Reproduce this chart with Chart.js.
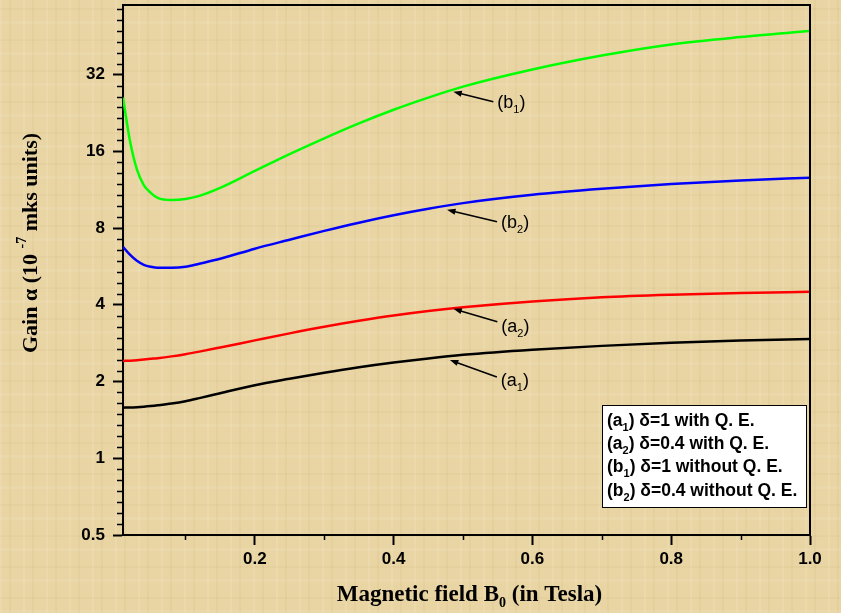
<!DOCTYPE html>
<html>
<head>
<meta charset="utf-8">
<script src="https://cdn.jsdelivr.net/npm/chart.js@4.4.1/dist/chart.umd.min.js"></script>
<style>
    html, body {
        margin: 0;
        padding: 0;
    }
    body {
        width: 841px;
        height: 613px;
        overflow: hidden;
        background-color: #e9d5a3;
        background-image:
            repeating-linear-gradient(90deg, rgba(255,255,255,0.10) 0 2px, rgba(0,0,0,0) 2px 9px, rgba(150,120,60,0.06) 9px 11px, rgba(0,0,0,0) 11px 23px),
            repeating-linear-gradient(0deg, rgba(255,255,255,0.08) 0 3px, rgba(0,0,0,0) 3px 14px, rgba(150,120,60,0.05) 14px 16px, rgba(0,0,0,0) 16px 31px);
    }
    #wrap {
        position: absolute;
        left: 0;
        top: 0;
        width: 841px;
        height: 613px;
    }
</style>
</head>
<body>
<div id="wrap"><canvas id="gainChart" width="841" height="613"></canvas></div>
<script>
// Magnetic field B0 (Tesla)
const fieldValues = [0.01, 0.02, 0.03, 0.04, 0.05, 0.06, 0.08, 0.10, 0.12, 0.15, 0.20, 0.25,
                     0.30, 0.35, 0.40, 0.45, 0.50, 0.60, 0.70, 0.80, 0.90, 1.00];

// Gain alpha (10^-7 mks units)
const gainA1 = [1.58, 1.582, 1.587, 1.594, 1.603, 1.614, 1.64, 1.675, 1.722, 1.80, 1.935, 2.05,
                2.165, 2.275, 2.375, 2.465, 2.545, 2.665, 2.76, 2.84, 2.895, 2.94];
const gainA2 = [2.41, 2.415, 2.425, 2.44, 2.455, 2.47, 2.51, 2.56, 2.62, 2.72, 2.90, 3.09,
                3.28, 3.46, 3.63, 3.78, 3.91, 4.12, 4.28, 4.38, 4.45, 4.50];
const gainB1 = [26.0, 17.6, 13.6, 11.8, 11.0, 10.5, 10.3, 10.4, 10.7, 11.5, 13.4, 15.6,
                18.0, 20.6, 23.3, 26.0, 28.7, 33.5, 38.0, 42.0, 44.9, 47.4];
const gainB2 = [6.76, 6.29, 5.95, 5.74, 5.64, 5.59, 5.59, 5.64, 5.80, 6.06, 6.64, 7.20,
                7.80, 8.40, 8.98, 9.52, 10.02, 10.8, 11.4, 11.9, 12.3, 12.6];

const yTickValues = [0.5, 1, 2, 4, 8, 16, 32];
const xTickValues = [0.2, 0.4, 0.6, 0.8, 1.0];
const xMinorValues = [0.1, 0.3, 0.5, 0.7, 0.9];

const legendLines = [
    ["(a", "1", ") \u03b4=1 with Q. E."],
    ["(a", "2", ") \u03b4=0.4 with Q. E."],
    ["(b", "1", ") \u03b4=1 without Q. E."],
    ["(b", "2", ") \u03b4=0.4 without Q. E."]
];

// curve labels: arrow tip in data units, tail and text offset in pixels
const curveLabels = [
    { name: "b", sub: "1", x: 0.486, y: 27.4, tail: [40, 10], text: [44, 11] },
    { name: "b", sub: "2", x: 0.477, y: 9.44, tail: [50, 12], text: [54, 13] },
    { name: "a", sub: "2", x: 0.486, y: 3.86, tail: [44, 13], text: [48, 18] },
    { name: "a", sub: "1", x: 0.481, y: 2.43, tail: [47, 17], text: [51, 21] }
];

const SANS = '"Liberation Sans", Arial, sans-serif';
const SERIF = '"Liberation Serif", "Times New Roman", serif';

function toPoints(ys) {
    return fieldValues.map((x, i) => ({ x: x, y: ys[i] }));
}

// draw text with a sub or superscript piece in the middle
function drawRich(ctx, pre, mid, post, x, y, size, family, weight, kind, align) {
    const big = weight + " " + size + "px " + family;
    const small = weight + " " + Math.round(size * 0.62) + "px " + family;
    ctx.font = big;
    const w1 = ctx.measureText(pre).width;
    const w3 = ctx.measureText(post).width;
    ctx.font = small;
    const w2 = ctx.measureText(mid).width;
    const total = w1 + w2 + w3;
    let start = x;
    if (align === "center") start = x - total / 2;
    ctx.textBaseline = "middle";
    ctx.textAlign = "left";
    ctx.font = big;
    ctx.fillText(pre, start, y);
    ctx.font = small;
    const shift = kind === "sub" ? size * 0.38 : -size * 0.38;
    ctx.fillText(mid, start + w1, y + shift);
    ctx.font = big;
    ctx.fillText(post, start + w1 + w2, y);
}

const decorPlugin = {
    id: "decor",
    afterDraw(chart) {
        const ctx = chart.ctx;
        const area = chart.chartArea;
        const xs = chart.scales.x;
        const ys = chart.scales.y;
        ctx.save();
        ctx.strokeStyle = "#000";
        ctx.fillStyle = "#000";

        // top and right frame
        ctx.lineWidth = 2;
        ctx.beginPath();
        ctx.moveTo(area.left, area.top);
        ctx.lineTo(area.right, area.top);
        ctx.lineTo(area.right, area.bottom);
        ctx.stroke();

        // minor ticks on y: six per octave, even in pixel space
        ctx.lineWidth = 1.5;
        for (let lo = 0.5; lo < ys.max; lo *= 2) {
            for (let j = 1; j <= 6; j++) {
                const v = lo * Math.pow(2, j / 7);
                if (v > ys.max) break;
                const py = Math.round(ys.getPixelForValue(v)) + 0.5;
                ctx.beginPath();
                ctx.moveTo(area.left - 6, py);
                ctx.lineTo(area.left, py);
                ctx.stroke();
            }
        }
        // minor ticks on x
        xMinorValues.forEach(v => {
            const px = Math.round(xs.getPixelForValue(v)) + 0.5;
            ctx.beginPath();
            ctx.moveTo(px, area.bottom);
            ctx.lineTo(px, area.bottom + 5);
            ctx.stroke();
        });

        // axis titles
        drawRich(ctx, "Magnetic field B", "0", " (in Tesla)",
            (area.left + area.right) / 2 + 3, 595, 23, SERIF, "bold", "sub", "center");
        ctx.save();
        ctx.translate(31, 243);
        ctx.rotate(-Math.PI / 2);
        drawRich(ctx, "Gain \u03b1 (10 ", "-7", " mks units)", 0, 0, 22, SERIF, "bold", "sup", "center");
        ctx.restore();

        // curve labels with arrows
        curveLabels.forEach(c => {
            const tx = xs.getPixelForValue(c.x);
            const ty = ys.getPixelForValue(c.y);
            const ex = tx + c.tail[0];
            const ey = ty + c.tail[1];
            const ang = Math.atan2(ty - ey, tx - ex);
            const head = 9;
            ctx.lineWidth = 1.6;
            ctx.beginPath();
            ctx.moveTo(ex, ey);
            ctx.lineTo(tx - Math.cos(ang) * 5, ty - Math.sin(ang) * 5);
            ctx.stroke();
            ctx.beginPath();
            ctx.moveTo(tx, ty);
            ctx.lineTo(tx - head * Math.cos(ang - 0.35), ty - head * Math.sin(ang - 0.35));
            ctx.lineTo(tx - head * Math.cos(ang + 0.35), ty - head * Math.sin(ang + 0.35));
            ctx.closePath();
            ctx.fill();
            drawRich(ctx, "(" + c.name, c.sub, ")", tx + c.text[0], ty + c.text[1],
                18, SANS, "normal", "sub", "left");
        });

        // legend box
        const bx = 602, by = 405, bw = 204, bh = 102;
        ctx.fillStyle = "#fff";
        ctx.fillRect(bx, by, bw, bh);
        ctx.lineWidth = 1;
        ctx.strokeRect(bx + 0.5, by + 0.5, bw, bh);
        ctx.fillStyle = "#000";
        legendLines.forEach((ln, i) => {
            drawRich(ctx, ln[0], ln[1], ln[2], 607, 421 + i * 23.3, 17.5, SANS, "bold", "sub", "left");
        });
        ctx.restore();
    }
};

const ctx = document.getElementById("gainChart").getContext("2d");
new Chart(ctx, {
    type: "line",
    data: {
        datasets: [
            { label: "(b1)", data: toPoints(gainB1), borderColor: "#00ff00" },
            { label: "(b2)", data: toPoints(gainB2), borderColor: "#0000ff" },
            { label: "(a2)", data: toPoints(gainA2), borderColor: "#ff0000" },
            { label: "(a1)", data: toPoints(gainA1), borderColor: "#000000" }
        ]
    },
    options: {
        responsive: false,
        animation: false,
        devicePixelRatio: 1,
        layout: { padding: { left: 0, top: 5, right: 31, bottom: 0 } },
        elements: {
            line: { borderWidth: 2.5, cubicInterpolationMode: "monotone", fill: false },
            point: { radius: 0 }
        },
        plugins: {
            legend: { display: false },
            tooltip: { enabled: false }
        },
        scales: {
            x: {
                type: "linear",
                min: 0.01,
                max: 1.0,
                afterBuildTicks: scale => { scale.ticks = xTickValues.map(v => ({ value: v })); },
                afterFit: scale => { scale.height = 78; scale.paddingLeft = 0; scale.paddingRight = 0; },
                ticks: {
                    color: "#000",
                    font: { family: SANS, size: 17, weight: "bold" },
                    padding: 4,
                    maxRotation: 0,
                    callback: v => v.toFixed(1)
                },
                grid: { drawOnChartArea: false, tickLength: 10, tickWidth: 2, tickColor: "#000" },
                border: { display: true, color: "#000", width: 2 }
            },
            y: {
                type: "logarithmic",
                min: 0.5,
                max: 60,
                afterBuildTicks: scale => { scale.ticks = yTickValues.map(v => ({ value: v })); },
                afterFit: scale => { scale.width = 123; scale.paddingTop = 0; scale.paddingBottom = 0; },
                ticks: {
                    color: "#000",
                    font: { family: SANS, size: 17, weight: "bold" },
                    padding: 8,
                    callback: v => String(v)
                },
                grid: { drawOnChartArea: false, tickLength: 10, tickWidth: 2, tickColor: "#000" },
                border: { display: true, color: "#000", width: 2 }
            }
        }
    },
    plugins: [decorPlugin]
});
</script>
</body>
</html>
